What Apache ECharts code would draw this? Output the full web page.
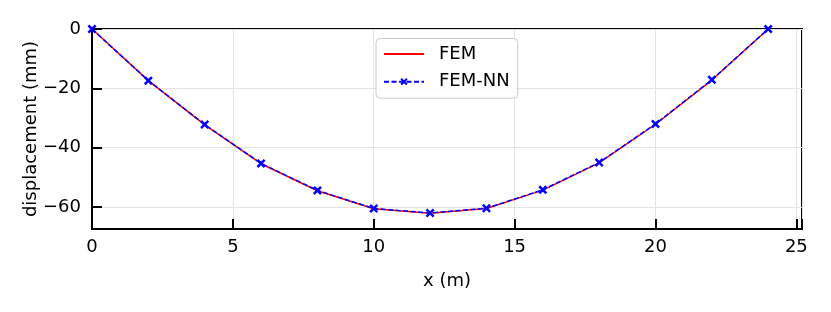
<!DOCTYPE html>
<html>
<head>
<meta charset="utf-8">
<script src="https://cdn.jsdelivr.net/npm/echarts@6/dist/echarts.min.js"></script>
<style>html,body{margin:0;padding:0;background:#fff}#c{width:831px;height:312px}</style>
</head>
<body>
<div id="c"></div>
<script>
const xValues = [0, 2, 4, 6, 8, 10, 12, 14, 16, 18, 20, 22, 24];
const femValues = [0, -17.4, -32.3, -45.4, -54.5, -60.6, -62.1, -60.5, -54.3, -45.1, -32.1, -17.2, 0];
const femNNValues = [0, -17.4, -32.2, -45.3, -54.4, -60.5, -62.0, -60.4, -54.2, -45.0, -32.0, -17.1, 0];
const xTicks = [0, 5, 10, 15, 20, 25];
const yTicks = [0, -20, -40, -60];

const FONT = 'DejaVu Sans';
const fmt = v => (v < 0 ? '\u2212' + Math.abs(v) : String(v));
const xMark = 'path://M2,0 L5,3 L8,0 L10,2 L7,5 L10,8 L8,10 L5,7 L2,10 L0,8 L3,5 L0,2 Z';

const chart = echarts.init(document.getElementById('c'), null, {renderer: 'canvas'});
chart.setOption({
  animation: false,
  backgroundColor: '#fff',
  grid: {left: 92, right: 29, top: 29, bottom: 83, show: true, borderColor: '#000', borderWidth: 2, containLabel: false},
  legend: {
    orient: 'vertical', left: 376, top: 38.5,
    itemWidth: 40, itemHeight: 9, itemGap: 9.7,
    padding: [6.5, 8, 7.5, 7],
    backgroundColor: 'rgba(255,255,255,0.85)',
    borderColor: '#cccccc', borderWidth: 1, borderRadius: 4,
    textStyle: {fontFamily: FONT, fontSize: 18, color: '#000', padding: [0, 0, 0, 10], lineHeight: 18},
    data: [
      {name: 'FEM', itemStyle: {color: 'rgba(0,0,0,0)', borderWidth: 0, opacity: 0}},
      {name: 'FEM-NN'}
    ]
  },
  xAxis: {
    type: 'value', min: 0, max: 25.2, interval: 5,
    name: 'x (m)', nameLocation: 'middle', nameGap: 43, nameMoveOverlap: false,
    nameTextStyle: {fontFamily: FONT, fontSize: 18, color: '#000'},
    axisLine: {show: true, onZero: false, lineStyle: {color: '#000', width: 2}},
    axisTick: {show: true, inside: true, length: 10, lineStyle: {color: '#000', width: 2}},
    axisLabel: {fontFamily: FONT, fontSize: 18, color: '#000', margin: 9,
      formatter: v => (xTicks.indexOf(v) >= 0 ? fmt(v) : '')},
    splitLine: {show: true, lineStyle: {color: '#e3e3e3', width: 1}}
  },
  yAxis: {
    type: 'value', min: -67.4, max: 0, splitNumber: 3, minInterval: 20, maxInterval: 20,
    name: 'displacement (mm)', nameLocation: 'middle', nameGap: 52, nameMoveOverlap: false,
    nameTextStyle: {fontFamily: FONT, fontSize: 18, color: '#000'},
    axisLine: {show: true, onZero: false, lineStyle: {color: '#000', width: 2}},
    axisTick: {show: true, inside: true, length: 10, lineStyle: {color: '#000', width: 2}},
    axisLabel: {fontFamily: FONT, fontSize: 18, color: '#000', margin: 11,
      formatter: v => (yTicks.indexOf(v) >= 0 ? fmt(v) : '')},
    splitLine: {show: true, lineStyle: {color: '#e3e3e3', width: 1}}
  },
  series: [
    {
      name: 'FEM', type: 'line',
      data: xValues.map((x, i) => [x, femValues[i]]),
      showSymbol: false, symbol: 'none',
      lineStyle: {color: '#ff0000', width: 1.5},
      itemStyle: {color: '#ff0000'}
    },
    {
      name: 'FEM-NN', type: 'line',
      data: xValues.map((x, i) => [x, femNNValues[i]]),
      symbol: xMark, symbolSize: 9, showSymbol: true,
      lineStyle: {color: '#0000ff', width: 1.5, type: [5, 2.5]},
      itemStyle: {color: '#0000ff'}
    }
  ]
});
</script>
</body>
</html>
